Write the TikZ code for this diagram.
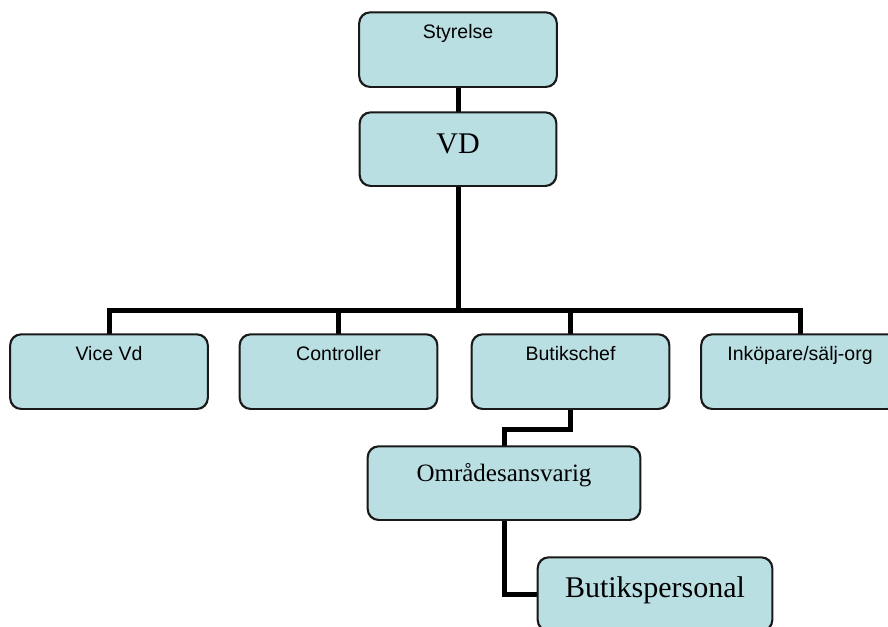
\documentclass[tikz,border=0pt]{standalone}
\usepackage{fontspec}
\setmainfont{Liberation Serif}
\newfontfamily\arialfont{Liberation Sans}
\usetikzlibrary{calc}
\definecolor{boxfill}{RGB}{186,223,227}

\tikzset{
  orgbox/.style={draw=black!90, line width=1.3pt, fill=boxfill, rounded corners=11pt, inner sep=0pt, anchor=north},
  sansbox/.style={orgbox, font=\arialfont\fontsize{19.5}{23}\selectfont, minimum width=197pt, text height=26pt, text depth=48pt},
  conn/.style={line width=5pt}
}

\begin{document}
\begin{tikzpicture}[x=1pt, y=-1pt]

% Page frame (clip what runs off the edge)
\useasboundingbox (0,0) rectangle (888,626);
\clip (0,0) rectangle (888,626);

% Top of the chart
\node[sansbox] (sty) at (458,12) {Styrelse};
\node[orgbox, minimum width=196pt, text height=41pt, text depth=32pt, font=\fontsize{30}{34}\selectfont] (vd) at (458,112) {VD};

% Second row
\node[sansbox] (vice) at (109,334) {Vice Vd};
\node[sansbox] (ctrl) at (338.5,334) {Controller};
\node[sansbox] (chef) at (570.5,334) {Butikschef};
\node[sansbox] (ink) at (800,334) {Inköpare/sälj-org};

% Lower boxes
\node[orgbox, minimum width=272pt, text height=35pt, text depth=38pt, font=\fontsize{25}{29}\selectfont] (omr) at (504,446) {Områdesansvarig};
\node[orgbox, minimum width=234pt, text height=40pt, text depth=33pt, font=\fontsize{30}{34}\selectfont] (pers) at (655,557) {Butikspersonal};

% Connectors
\draw[conn] (sty.south) -- (vd.north);
\draw[conn] (vd.south) -- (vd.south |- 0,310) coordinate (hub);
\foreach \n in {vice,ctrl,chef,ink}
  \draw[conn] (hub) -| (\n.north);
\draw[conn] (chef.south) -- ++(0,20) -| (omr.north);
\draw[conn] (omr.south) |- (pers.west);

% Redraw boxes over line ends
\foreach \n in {sty,vd,vice,ctrl,chef,ink,omr,pers}
  \draw[black!90, line width=1.3pt, rounded corners=11pt] (\n.south west) rectangle (\n.north east);

\end{tikzpicture}
\end{document}
